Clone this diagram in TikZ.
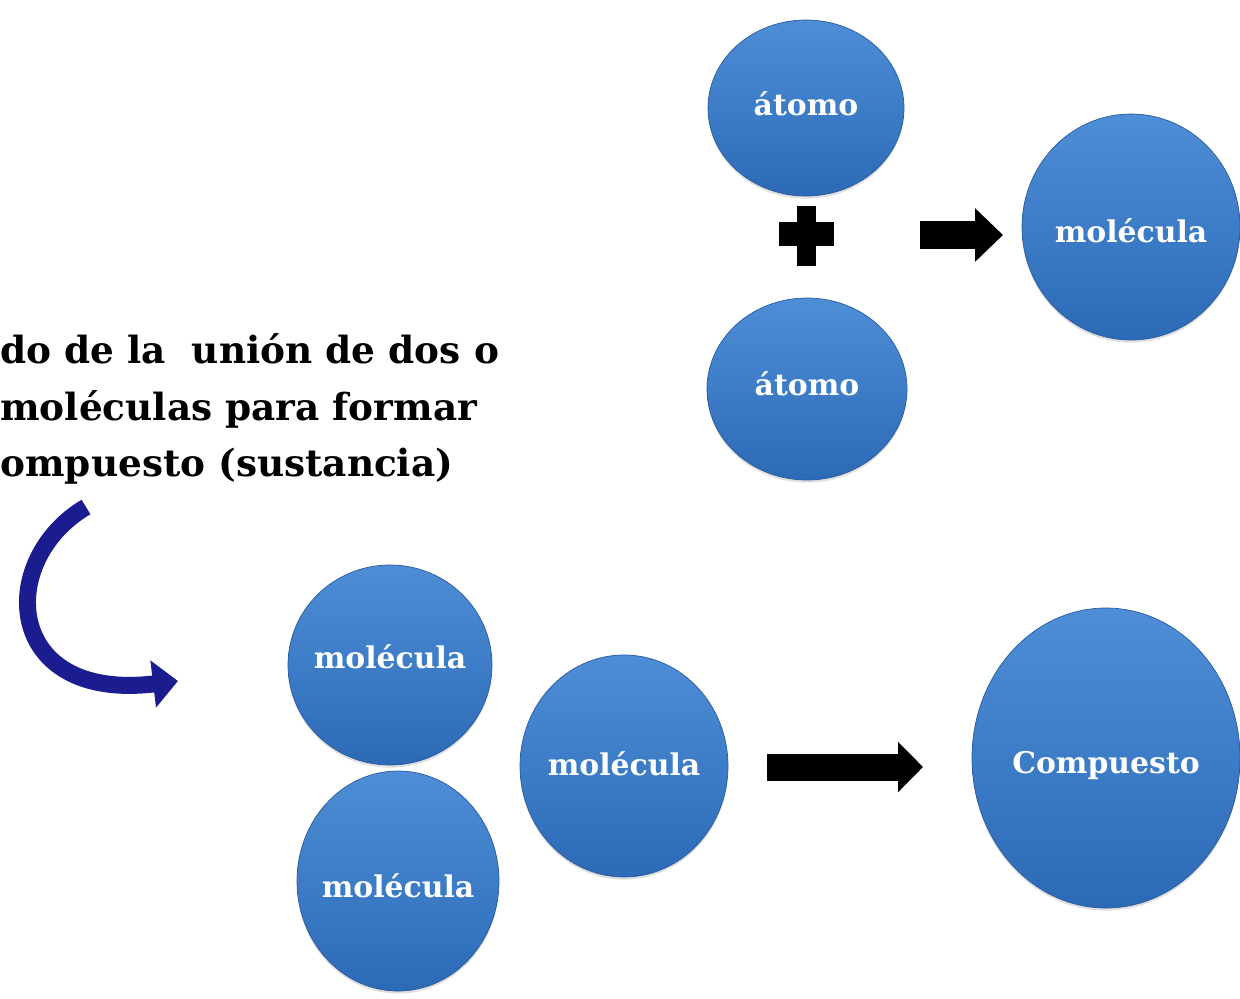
\documentclass[tikz,border=0pt]{standalone}
\usepackage{fontspec}
\setmainfont{DejaVu Serif}
\usetikzlibrary{shapes.geometric,arrows.meta,shadows}

\definecolor{balltop}{RGB}{78,142,214}
\definecolor{ballbot}{RGB}{44,106,182}
\definecolor{balledge}{RGB}{40,90,160}
\definecolor{swirl}{RGB}{28,28,145}

\tikzset{
  ball/.style={ellipse, inner sep=0pt, draw=balledge, thin,
    top color=balltop, bottom color=ballbot,
    drop shadow={opacity=0.25, shadow xshift=0pt, shadow yshift=-1.5pt}},
  balltext/.style={text=white, inner sep=0pt,
    font=\bfseries\fontsize{17}{20}\selectfont},
  caption/.style={anchor=base west, inner sep=0pt,
    font=\bfseries\fontsize{21.3}{26}\selectfont},
  blockarrow/.style={line width=#1},
}

\begin{document}
\begin{tikzpicture}[x=0.02cm, y=-0.02cm]

  \def\u{0.02cm};

  \fill[white] (0,0) rectangle (1240,998);
  \useasboundingbox (0,0) rectangle (1240,998);

  %text
  \node[caption] (line1) at (0,363) {do de la~ unión de dos o};
  \node[caption] (line2) at (0,420) {moléculas para formar};
  \node[caption] (line3) at (0,476) {ompuesto (sustancia)};

  %circles
  \foreach \x/\y/\rx/\ry/\dl/\txt/\name in {806/108/98/88/-4/átomo/atomA,
        807/389/100/91/-5/átomo/atomB, 1131/227/109/113/4/molécula/molA,
        390/665/102/100/-8/molécula/molB, 398/881/101/110/5/molécula/molC,
        624/766/104/111/-2/molécula/molD, 1106/758/134/150/8/Compuesto/comp}{
     \node[ball, minimum width=2*\rx*\u, minimum height=2*\ry*\u,
           label={[balltext, yshift=-\dl*\u]center:\txt}] (\name) at (\x,\y) {};
  }

  %plus
  \fill[black] (797,206) rectangle (816,266);
  \fill[black] (779,222) rectangle (834,246);

  %arrows
  \coordinate (t1) at (920,235);
  \coordinate (t2) at (1003,235);
  \draw[blockarrow=0.56cm, -{Triangle[length=0.56cm, width=1.04cm]}] (t1) -- (t2);

  \coordinate (b1) at (767,767);
  \coordinate (b2) at (923,767);
  \draw[blockarrow=0.54cm, -{Triangle[length=0.5cm, width=0.98cm]}] (b1) -- (b2);

  \coordinate (s1) at (86,507);
  \coordinate (s2) at (178,681);
  \draw[swirl, blockarrow=0.34cm, -{Triangle[length=0.5cm, width=0.92cm]}]
     (s1) .. controls (-4,560) and (3,702) .. (s2);

\end{tikzpicture}
\end{document}
